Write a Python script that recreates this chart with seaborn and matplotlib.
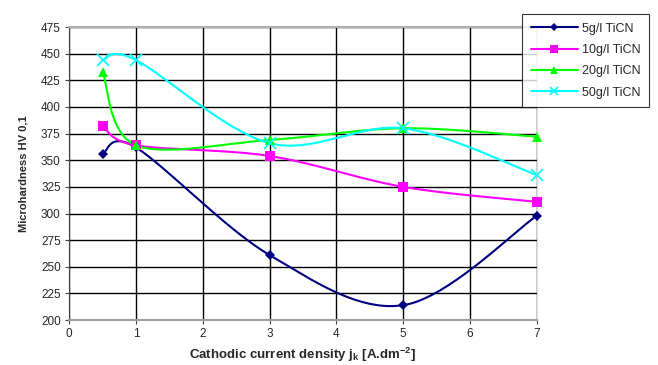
import numpy as np
import pandas as pd
import matplotlib
matplotlib.use("Agg")
import matplotlib.pyplot as plt
from matplotlib.lines import Line2D
import seaborn as sns

# data
current_density = [0.5, 1, 3, 5, 7]
hv_5 = [356, 362, 261, 214, 298]
hv_10 = [382, 364, 354, 325, 311]
hv_20 = [433, 364, 369, 380, 372]
hv_50 = [444, 444, 366, 380, 336]
series_names = ["5g/l TiCN", "10g/l TiCN", "20g/l TiCN", "50g/l TiCN"]

colors = {
    "5g/l TiCN": "#000080",
    "10g/l TiCN": "#FF00FF",
    "20g/l TiCN": "#00FF00",
    "50g/l TiCN": "#00FFFF",
}
markers = {"5g/l TiCN": "D", "10g/l TiCN": "s", "20g/l TiCN": "^", "50g/l TiCN": "x"}
msizes = {"5g/l TiCN": 5, "10g/l TiCN": 6.5, "20g/l TiCN": 7.5, "50g/l TiCN": 8}


def excel_smooth(x, y, n=40):
    """Catmull-Rom style bezier smoothing like spreadsheet 'smoothed line'"""
    pts = np.column_stack([x, y]).astype(float)
    out = []
    for i in range(len(pts) - 1):
        p0 = pts[i - 1] if i > 0 else pts[i]
        p1, p2 = pts[i], pts[i + 1]
        p3 = pts[i + 2] if i + 2 < len(pts) else pts[i + 1]
        c1 = p1 + (p2 - p0) / 6
        c2 = p2 - (p3 - p1) / 6
        t = np.linspace(0, 1, n)[:, None]
        seg = ((1 - t) ** 3) * p1 + 3 * ((1 - t) ** 2) * t * c1 + 3 * (1 - t) * t ** 2 * c2 + t ** 3 * p2
        out.append(seg if i == 0 else seg[1:])
    seg = np.vstack(out)
    return seg[:, 0], seg[:, 1]


sns.set_style("white")
plt.rcParams["font.family"] = ["Liberation Sans", "DejaVu Sans"]
plt.rcParams["mathtext.fontset"] = "custom"
plt.rcParams["mathtext.rm"] = "Liberation Sans"
plt.rcParams["mathtext.bf"] = "Liberation Sans:bold"

frames = []
points = []
for name, vals in zip(series_names, [hv_5, hv_10, hv_20, hv_50]):
    sx, sy = excel_smooth(current_density, vals)
    frames.append(pd.DataFrame({"x": sx, "y": sy, "series": name}))
    points.append(pd.DataFrame({"x": current_density, "y": vals, "series": name}))
curves = pd.concat(frames, ignore_index=True)
pts = pd.concat(points, ignore_index=True)

fig = plt.figure(figsize=(6.58, 3.65), dpi=100)
ax = fig.add_axes([0.105, 0.123, 0.711, 0.803])

sns.lineplot(data=curves, x="x", y="y", hue="series", palette=colors, sort=False,
             estimator=None, units="series", linewidth=1.5, legend=False, ax=ax, zorder=3)
for name in series_names:
    sub = pts[pts["series"] == name]
    ax.plot(sub["x"], sub["y"], linestyle="none", marker=markers[name], ms=msizes[name],
            color=colors[name], mew=1.2 if markers[name] == "x" else 0, zorder=4, clip_on=False)

ax.set_xlim(0, 7)
ax.set_ylim(200, 475)
ax.set_xticks(range(0, 8))
ax.set_yticks(range(200, 476, 25))
ax.grid(True, color="black", linewidth=1.0)
ax.set_axisbelow(True)
ax.tick_params(axis="both", labelsize=8.5, length=3, width=0.8, color="#404040",
               direction="out", bottom=True, left=True, pad=3)

ax.spines["top"].set_color("#b0b0b0")
ax.spines["top"].set_linewidth(1.5)
ax.spines["bottom"].set_color("#a0a0a0")
ax.spines["bottom"].set_linewidth(1.5)
ax.spines["right"].set_color("#dddddd")
ax.spines["right"].set_linewidth(0.8)
ax.spines["left"].set_color("#404040")
ax.spines["left"].set_linewidth(0.8)

ax.set_xlabel(r"Cathodic current density j$_{\mathbf{k}}$ [A.dm$^{\mathbf{-2}}$]",
              fontsize=9.5, fontweight="bold", labelpad=4)
ax.set_ylabel("Microhardness HV 0,1", fontsize=8, fontweight="bold", labelpad=9)

handles = [Line2D([0], [0], color=colors[n], lw=1.5, marker=markers[n], ms=msizes[n] * 0.8,
                  mew=1.2 if markers[n] == "x" else 0) for n in series_names]
leg = fig.legend(handles, series_names, loc="upper left", bbox_to_anchor=(0.793, 0.962),
                 fontsize=9, frameon=True, fancybox=False, handlelength=3.8,
                 labelspacing=0.75, borderpad=0.7, handletextpad=0.3, borderaxespad=0)
leg.get_frame().set_edgecolor("black")
leg.get_frame().set_linewidth(0.8)

fig.savefig("out.png", dpi=100)
